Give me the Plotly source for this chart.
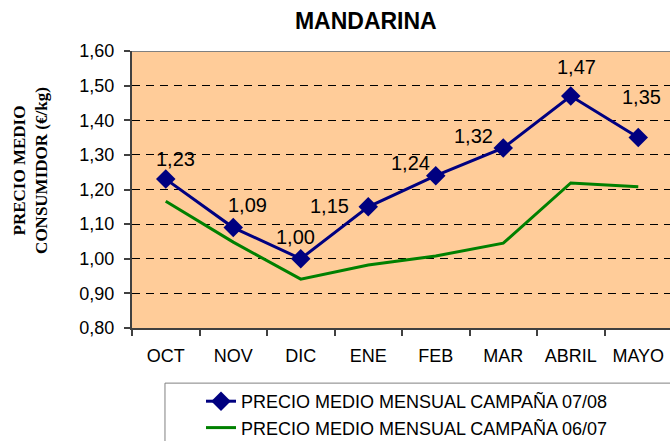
import plotly.graph_objects as go

months = ["OCT", "NOV", "DIC", "ENE", "FEB", "MAR", "ABRIL", "MAYO"]
precio_0708 = [1.23, 1.09, 1.00, 1.15, 1.24, 1.32, 1.47, 1.35]
precio_0607 = [1.166, 1.048, 0.941, 0.982, 1.008, 1.045, 1.219, 1.208]
y_ticks = [0.80, 0.90, 1.00, 1.10, 1.20, 1.30, 1.40, 1.50, 1.60]

name_0708 = "PRECIO MEDIO MENSUAL CAMPAÑA 07/08"
name_0607 = "PRECIO MEDIO MENSUAL CAMPAÑA 06/07"

# label offsets (styling, px)
label_shift = [(10, 20), (14, 23), (-5, 22), (-39, 1), (-25, 13), (-30, 12), (6, 29), (3, 41)]

fig = go.Figure()
fig.add_trace(go.Scatter(
    x=months, y=precio_0708, name=name_0708, mode="lines+markers",
    line=dict(color="#000080", width=3),
    marker=dict(symbol="diamond", size=15, color="#000080"),
))
fig.add_trace(go.Scatter(
    x=months, y=precio_0607, name=name_0607, mode="lines",
    line=dict(color="#008000", width=3),
))

for m, v, (dx, dy) in zip(months, precio_0708, label_shift):
    fig.add_annotation(x=m, y=v, text=f"{v:.2f}".replace(".", ","), showarrow=False,
                       xshift=dx, yshift=dy,
                       font=dict(family="Liberation Sans, Arial", size=20, color="black"))

fig.add_annotation(xref="paper", yref="paper", x=-0.19, y=0.57, xanchor="center", yanchor="middle",
                   text="<b>PRECIO MEDIO</b><br><b>CONSUMIDOR (€/kg)</b>", textangle=-90, showarrow=False,
                   font=dict(family="Liberation Serif, Times New Roman", size=17, color="black"))

fig.add_shape(type="line", xref="paper", yref="y", x0=0, x1=1, y0=1.60, y1=1.60,
              line=dict(color="#808080", width=2))

# legend frame (extends past the picture edge, as in the reference)
fig.add_shape(type="rect", xref="paper", yref="paper", x0=0.0613, x1=1.1, y0=-0.199, y1=-0.5,
              line=dict(color="#808080", width=1), fillcolor="white", layer="below")

fig.update_layout(
    width=670, height=441,
    margin=dict(l=132, r=0, t=51, b=113, autoexpand=False),
    paper_bgcolor="white", plot_bgcolor="#FFCC99",
    separators=", ",
    font=dict(family="Liberation Sans, Arial", size=18, color="black"),
    title=dict(text="<b>MANDARINA</b>", x=0.546, xref="container", y=1 - 21 / 441,
               yref="container", xanchor="center", yanchor="middle",
               font=dict(family="Liberation Sans, Arial", size=23, color="black")),
    showlegend=True,
    legend=dict(x=165 / 670, xref="container", y=1 - 383 / 441, yref="container",
                xanchor="left", yanchor="top",
                bgcolor="rgba(0,0,0,0)", borderwidth=0,
                font=dict(family="Liberation Sans, Arial", size=18, color="black"),
                indentation=36, tracegroupgap=0),
)
fig.update_xaxes(type="category", range=[-0.5, 7.47], tickson="boundaries",
                 ticks="outside", ticklen=6, tickcolor="#404040", tickwidth=2,
                 showline=True, linecolor="#404040", linewidth=2, showgrid=False,
                 ticklabelstandoff=10, tickfont=dict(size=18))
fig.update_yaxes(range=[0.80, 1.60], tickvals=y_ticks, tickformat=".2f",
                 ticks="outside", ticklen=6, tickcolor="#404040", tickwidth=2,
                 showline=True, linecolor="#404040", linewidth=2,
                 showgrid=True, gridcolor="black", gridwidth=1, griddash="8px,6px",
                 zeroline=False, ticklabelstandoff=6, tickfont=dict(size=18))

fig.write_html("out.html", config={"displayModeBar": False},
               post_script="document.body.style.margin='0';document.body.style.overflow='hidden';")
